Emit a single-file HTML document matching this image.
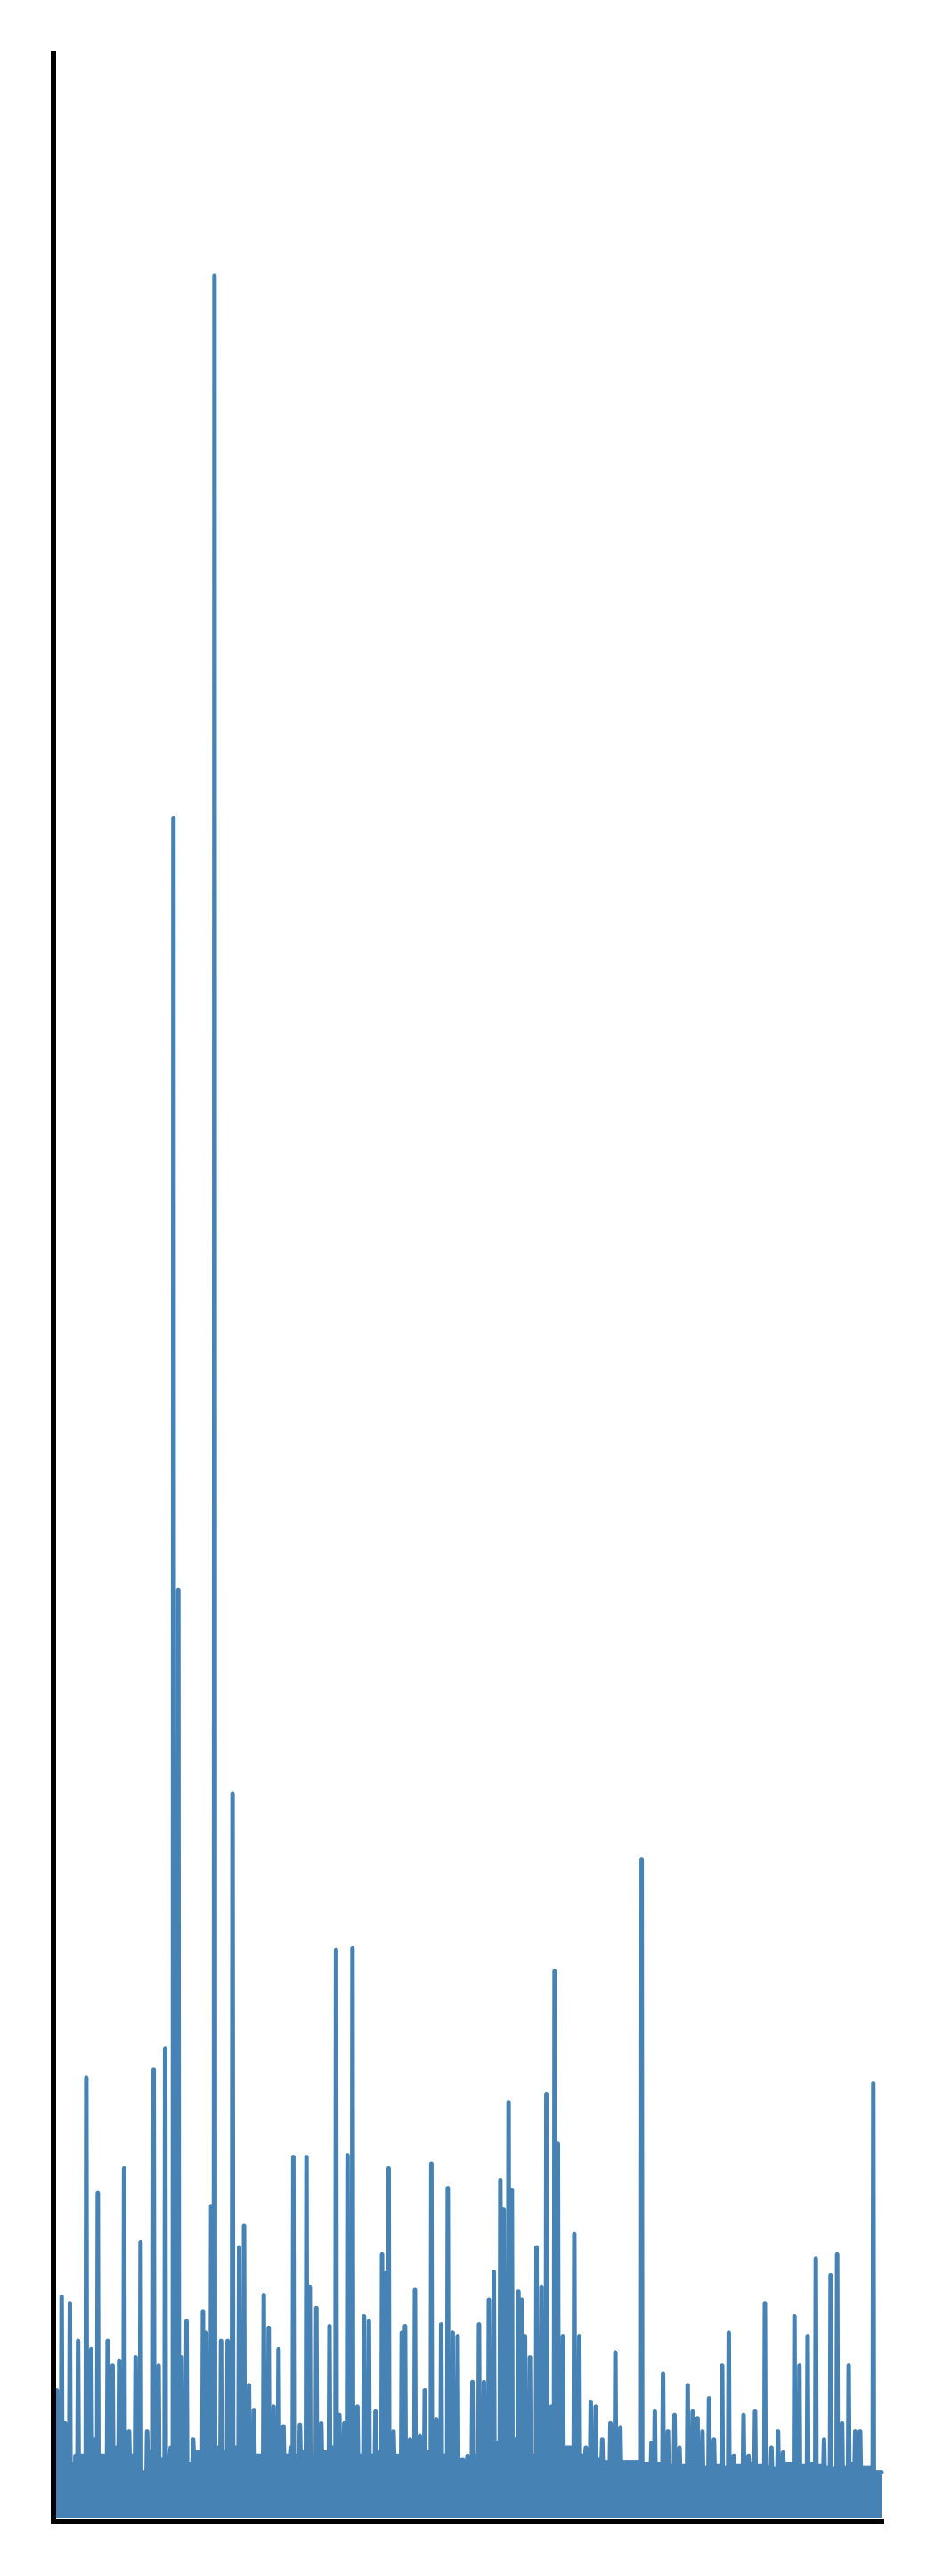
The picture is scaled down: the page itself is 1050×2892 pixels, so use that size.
<!DOCTYPE html>
<html><head><meta charset="utf-8"><style>
html,body{margin:0;padding:0;background:#fff;}
svg{display:block;}
</style></head><body>
<svg id="chart" width="1050" height="2892" viewBox="0 0 1050 2892" xmlns="http://www.w3.org/2000/svg">
<g id="plot"></g>
<line x1="60" y1="57" x2="60" y2="2834" stroke="#000" stroke-width="6"/>
<line x1="57" y1="2831" x2="993" y2="2831" stroke="#000" stroke-width="6"/>
</svg>
<script>
// sample positions (index units)
const peakIdx = [35,38,40,43,46,48,53,56,60,66,69,73,76,79,83,86,90,94,97,101,104,106,109,111,114,118,124,126,129,131,135,137,139,142,146,149,152,155,161,164,167,170,173,177,179,183,187,189,193,196,201,205,207,210,212,215,218,222,225,229,233,235,237,240,245,247,250,253,256,259,263,266,269,273,276,279,282,285,288,292,295,298,301,305,307,310,312,316,318,320,323,327,330,333,336,338,340,343,350,353,357,360,363,367,372,375,378,391,397,399,404,407,411,414,419,422,425,428,432,435,440,444,447,453,456,460,466,470,474,477,484,487,492,497,502,506,510,513,517,521,524,532,535];
// peak values
const peakVals = [80,137,60,133,15,110,270,105,200,110,95,98,215,55,100,170,55,275,95,288,40,1037,567,100,122,50,128,115,192,1367,110,30,110,443,167,180,83,68,138,118,70,105,58,40,222,59,222,143,130,60,119,348,65,60,223,349,70,125,122,67,163,151,215,55,115,119,50,141,52,80,218,62,120,203,115,113,38,40,85,120,85,135,152,208,190,255,202,140,135,113,100,167,143,260,70,335,230,113,175,113,45,73,70,50,60,103,57,403,48,67,90,55,65,45,83,67,63,55,75,50,95,115,40,65,40,67,133,45,55,42,125,95,113,160,50,150,163,60,95,55,55,267,30];
// level held after each peak
const troughVals = [45,40,50,35,40,40,45,50,40,48,45,42,35,40,45,30,42,40,38,30,45,50,48,40,35,42,45,48,40,45,30,42,40,45,50,38,42,40,45,40,38,42,40,45,40,42,45,40,38,42,45,40,38,40,45,42,40,38,40,42,40,45,38,40,42,40,38,40,35,42,40,38,40,42,40,36,35,38,40,42,40,45,48,50,52,55,50,48,45,42,40,45,48,50,45,48,50,45,42,40,38,35,38,36,35,38,36,35,34,35,33,34,35,34,33,35,34,33,35,34,33,32,34,33,35,34,33,32,34,35,33,34,35,34,33,32,34,33,35,34,33,30,30];

const X0=60, X1=990, I0=33, I1=537;
const Y0=2831, V1=1503, PXH=2831-59;
function xs(i){return X0+(i-I0)*(X1-X0)/(I1-I0);}
function ys(v){return Y0-v*PXH/V1;}

const plot=document.getElementById('plot');
const NS='http://www.w3.org/2000/svg';
const n=Math.min(peakIdx.length,peakVals.length);
function lvl(k){const v=troughVals[k];return (v===undefined||isNaN(v))?35:v;}
let pts=[[xs(I0),ys(lvl(0))]];
for(let k=0;k<n;k++){
  const prev = k===0 ? lvl(0) : lvl(k-1);
  pts.push([xs(peakIdx[k]-0.35),ys(prev)]);
  pts.push([xs(peakIdx[k]),ys(peakVals[k])]);
  pts.push([xs(peakIdx[k]+0.35),ys(lvl(k))]);
}
pts.push([xs(I1),ys(lvl(n-1))]);
const area=document.createElementNS(NS,'polygon');


area.setAttribute('points',pts.map(p=>p.join(',')).join(' ')+' '+xs(I1)+','+(Y0-4)+' '+xs(I0)+','+(Y0-4));
area.setAttribute('fill','#4682b4');
plot.appendChild(area);
const line=document.createElementNS(NS,'polyline');


line.setAttribute('points',pts.map(p=>p.join(',')).join(' '));
line.setAttribute('fill','none');
line.setAttribute('stroke','#4682b4');
line.setAttribute('stroke-width','5');
line.setAttribute('stroke-linejoin','round');
line.setAttribute('stroke-linecap','round');
plot.appendChild(line);
</script>
</body></html>
